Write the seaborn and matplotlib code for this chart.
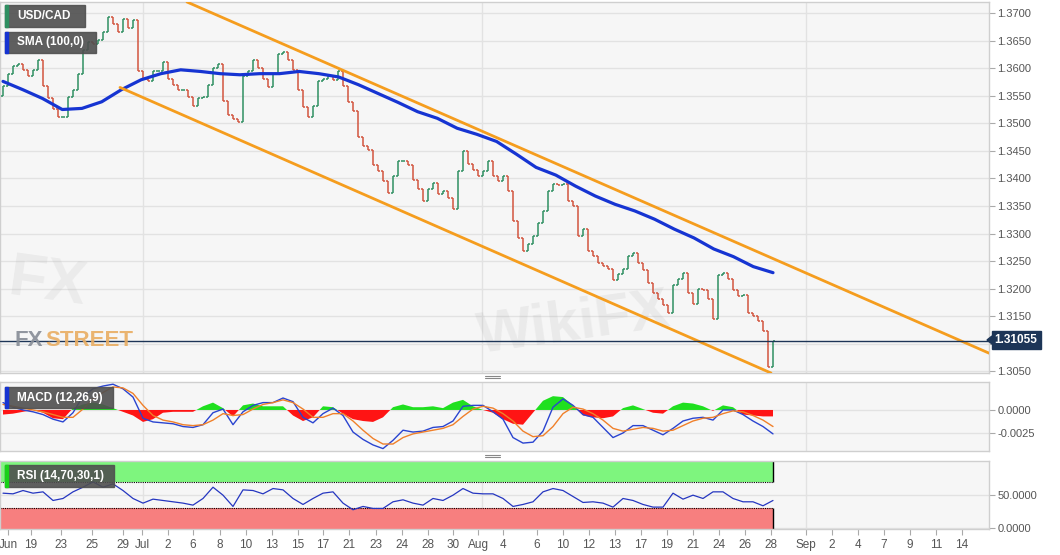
import numpy as np
import matplotlib
matplotlib.use("Agg")
import matplotlib.pyplot as plt
import seaborn as sns
from matplotlib.patches import Rectangle, Polygon
from matplotlib.lines import Line2D

# 4h-ish bars (coarsened), closes
first_open = 1.3549
closes = [
    1.3567, 1.3590, 1.3603, 1.3608, 1.3597, 1.3586, 1.3597, 1.3615, 1.3567, 1.3545,
    1.3525, 1.3512, 1.3512, 1.3548, 1.3561, 1.3590, 1.3633, 1.3648, 1.3644, 1.3651,
    1.3666, 1.3693, 1.3680, 1.3666, 1.3689, 1.3673, 1.3687, 1.3594, 1.3581, 1.3576,
    1.3594, 1.3594, 1.3612, 1.3581, 1.3570, 1.3561, 1.3561, 1.3547, 1.3531, 1.3545,
    1.3548, 1.3570, 1.3601, 1.3608, 1.3540, 1.3515, 1.3508, 1.3503, 1.3585, 1.3594,
    1.3615, 1.3601, 1.3581, 1.3565, 1.3590, 1.3626, 1.3630, 1.3615, 1.3597, 1.3561,
    1.3529, 1.3512, 1.3531, 1.3576, 1.3581, 1.3585, 1.3579, 1.3594, 1.3567, 1.3538,
    1.3522, 1.3476, 1.3458, 1.3452, 1.3425, 1.3413, 1.3395, 1.3373, 1.3404, 1.3431,
    1.3431, 1.3425, 1.3398, 1.3380, 1.3359, 1.3380, 1.3391, 1.3371, 1.3377, 1.3364,
    1.3344, 1.3413, 1.3449, 1.3427, 1.3416, 1.3404, 1.3413, 1.3431, 1.3404, 1.3395,
    1.3404, 1.3377, 1.3323, 1.3292, 1.3269, 1.3281, 1.3296, 1.3319, 1.3341, 1.3377,
    1.3389, 1.3388, 1.3389, 1.3359, 1.3350, 1.3296, 1.3308, 1.3269, 1.3260, 1.3247,
    1.3242, 1.3236, 1.3215, 1.3226, 1.3236, 1.3260, 1.3265, 1.3247, 1.3233, 1.3211,
    1.3193, 1.3182, 1.3170, 1.3156, 1.3206, 1.3218, 1.3229, 1.3193, 1.3173, 1.3200,
    1.3197, 1.3182, 1.3145, 1.3224, 1.3229, 1.3218, 1.3197, 1.3186, 1.3188, 1.3156,
    1.3151, 1.3142, 1.3124, 1.3058, 1.31055,
]
last_price = 1.31055

sma_100 = [
    1.3576, 1.3561, 1.3545, 1.3525, 1.3527, 1.3539, 1.3561, 1.3579, 1.3590, 1.3597,
    1.3594, 1.3590, 1.3588, 1.3590, 1.3590, 1.3594, 1.3590, 1.3584, 1.3570, 1.3554,
    1.3538, 1.3521, 1.3509, 1.3491, 1.3480, 1.3467, 1.3444, 1.3420, 1.3406, 1.3386,
    1.3368, 1.3353, 1.3341, 1.3326, 1.3308, 1.3292, 1.3272, 1.3258, 1.3240, 1.3229,
]

# channel drawn on the chart (bar position, price)
upper_channel_x = [36.8, 197.2]
upper_channel_y = [1.3720, 1.3083]
lower_channel_x = [23.4, 153.6]
lower_channel_y = [1.3565, 1.3047]

# MACD (12,26,9), in units of 1e-4, one reading every 2 bars
macd_line = [
    8, 3, 0, -2, -5, -10, -13, -3, 15, 23, 26, 28, 23, 14, -9, -13, -14, -15, -18, -19,
    -16, -3, 1, -16, -2, 5, 8, 8, 13, 9, -8, -14, -4, 2, -6, -24, -32, -38, -42, -33,
    -22, -24, -23, -19, -18, -12, 4, 5, 5, -2, -10, -30, -36, -35, -23, 3, 12, 5, -5, -8,
    -19, -30, -25, -17, -17, -22, -27, -20, -12, -9, -8, -11, 0, 0, -5, -12, -18, -26,
]
signal_line = [
    6, 4, 2, 0, -2, -5, -8, -8, 1, 12, 19, 25, 24, 18, 5, -6, -11, -13, -16, -17,
    -16, -11, -4, -6, -5, 1, 6, 8, 11, 8, 1, -8, -8, -4, -4, -12, -22, -31, -37, -37,
    -30, -26, -24, -22, -20, -16, -7, 1, 4, 2, -4, -12, -23, -29, -28, -18, -4, 3, 1, -4,
    -11, -20, -23, -21, -19, -20, -23, -22, -17, -12, -9, -8, -4, -1, -2, -6, -11, -18,
]
macd_hist = [
    -5, -4, -2, 0, -3, -9, -10, 2, 6, 8, 6, 2, -2, -6, -13, -10, -3, -2, -2, -2,
    4, 8, 2, -7, 5, 7, 4, 4, 4, -6, -12, -8, 4, 3, -4, -10, -12, -13, -8, 3,
    6, 3, 3, 4, 2, 8, 11, 4, 0, -3, -10, -15, -16, -3, 10, 15, 14, 5, -6, -8,
    -9, -7, 2, 5, 1, -3, -4, 4, 8, 7, 4, -1, 5, 3, -5, -6, -7, -7,
]

# RSI (14,70,30,1), one reading every 2 bars
rsi_values = [
    53, 52, 57, 53, 55, 42, 45, 55, 62, 70, 62, 67, 57, 45, 38, 44, 42, 40, 38, 35,
    45, 62, 50, 33, 58, 57, 52, 60, 58, 45, 36, 45, 53, 55, 38, 28, 33, 30, 30, 40,
    43, 38, 35, 45, 42, 50, 60, 53, 52, 52, 45, 33, 36, 40, 55, 60, 57, 48, 39, 40,
    38, 32, 45, 42, 36, 32, 32, 53, 44, 50, 45, 55, 55, 45, 40, 40, 34, 42,
]

tick_labels = ["Jun", "19", "23", "25", "29", "Jul", "2", "6", "8", "10", "13", "15",
               "17", "21", "23", "24", "28", "30", "Aug", "4", "6", "10", "12", "13",
               "17", "19", "21", "24", "26", "28", "Sep", "2", "4", "7", "9", "11", "14"]
tick_pos = [1.0, 5.6, 11.6, 17.8, 24.0, 27.8, 33.0, 38.0, 43.4, 48.6, 53.8, 59.0,
            64.0, 69.2, 74.6, 79.8, 85.0, 90.0, 95.0, 100.0, 106.8, 112.0, 117.2, 122.4,
            127.6, 132.8, 138.0, 143.2, 148.4, 153.6, 160.6, 165.8, 171.0, 176.2, 181.4,
            186.6, 191.8]
month_pos = [28.0, 95.8, 160.6]
price_ticks = [1.3050, 1.3100, 1.3150, 1.3200, 1.3250, 1.3300, 1.3350, 1.3400,
               1.3450, 1.3500, 1.3550, 1.3600, 1.3650, 1.3700]

sns.set_theme(style="white")
plt.rcParams['font.family'] = ['Liberation Sans', 'DejaVu Sans']

W, H = 1060, 555
fig = plt.figure(figsize=(W / 100, H / 100), dpi=100)
fig.patch.set_facecolor('white')


def ax_rect(x0, y0, x1, y1):
    return [x0 / W, 1 - y1 / H, (x1 - x0) / W, (y1 - y0) / H]


ax = fig.add_axes(ax_rect(0, 2, 989, 373))
ax_macd = fig.add_axes(ax_rect(0, 382, 989, 451), sharex=ax)
ax_rsi = fig.add_axes(ax_rect(0, 461, 989, 529), sharex=ax)

GRID = '#e2e2e2'
for a in (ax, ax_macd, ax_rsi):
    a.set_facecolor('#f6f6f6')
    for s in a.spines.values():
        s.set_color('#cfcfcf')
        s.set_linewidth(1)
    a.yaxis.tick_right()
    a.tick_params(axis='y', which='both', right=True, length=4, width=0.8,
                  color='#aaaaaa', labelcolor='#555555', labelsize=8, pad=2)
    a.grid(axis='y', color=GRID, lw=1)
    for m in month_pos:
        a.axvline(m, color=GRID, lw=1, zorder=0)

# faint watermarks behind the data
ax.text(0.005, 0.24, "FX", transform=ax.transAxes, color='#b0b0b0', fontsize=44,
        fontweight='bold', alpha=0.16, rotation=-8, va='center', ha='left', zorder=1)
ax.text(0.58, 0.13, "WikiFX", transform=ax.transAxes, color='#9a9a9a', fontsize=42,
        fontweight='bold', ha='center', va='center', rotation=8, alpha=0.13, zorder=1)

# --- price bars
n = len(closes)
x = np.arange(n)
opens = [first_open] + closes[:-1]
hi = np.maximum(opens, closes)
lo = np.minimum(opens, closes)
cols = ['#2f8f62' if c >= o else '#d2553f' for o, c in zip(opens, closes)]
ax.vlines(x, lo, hi, colors=cols, lw=1.1, zorder=3)
ax.hlines(opens, x - 0.4, x, colors=cols, lw=1.1, zorder=3)
ax.hlines(closes, x, x + 0.4, colors=cols, lw=1.1, zorder=3)

sma_x = np.linspace(0, n - 1, len(sma_100))
sns.lineplot(x=sma_x, y=sma_100, ax=ax, color='#1634d2', lw=2.3, zorder=4)
ax.plot(upper_channel_x, upper_channel_y, color='#f59d1e', lw=2, zorder=4)
ax.plot(lower_channel_x, lower_channel_y, color='#f59d1e', lw=2, zorder=4)
ax.axhline(last_price, color='#1d3557', lw=1, zorder=5)

ax.set_xlim(-0.6, 197.2)
ax.set_ylim(1.3047, 1.3720)
ax.set_yticks(price_ticks)
# 1.3100 sits under the current-price tag
ax.set_yticklabels(["" if abs(v - 1.31) < 1e-6 else f"{v:.4f}" for v in price_ticks])
ax.tick_params(axis='x', bottom=False, labelbottom=False)

# --- MACD
ix = np.arange(0, n, 2)
macd = np.array(macd_line) * 1e-4
sig = np.array(signal_line) * 1e-4
hist = np.array(macd_hist) * 1e-4
ax_macd.fill_between(ix, 0, hist, where=hist >= 0, color='#1fe01f', lw=0, interpolate=True, zorder=2)
ax_macd.fill_between(ix, 0, hist, where=hist <= 0, color='#ff1414', lw=0, interpolate=True, zorder=2)
sns.lineplot(x=ix, y=macd, ax=ax_macd, color='#2a44d0', lw=1, zorder=3)
sns.lineplot(x=ix, y=sig, ax=ax_macd, color='#f0802a', lw=1, zorder=3)
ax_macd.set_ylim(-0.00446, 0.00304)
ax_macd.set_yticks([-0.0025, 0.0])
ax_macd.set_yticklabels(["-0.0025", "0.0000"])
ax_macd.tick_params(axis='x', bottom=False, labelbottom=False)

# --- RSI
last_bar = n - 1
ax_rsi.fill_between([-0.6, last_bar], 70, 101.5, color='#7ef57e', lw=0, zorder=1)
ax_rsi.fill_between([-0.6, last_bar], -1, 30, color='#f77f7f', lw=0, zorder=1)
ax_rsi.hlines([70, 30], -0.6, last_bar, colors='black', lw=0.8, linestyles=(0, (1, 1)), zorder=2)
ax_rsi.vlines(last_bar, 70, 101.5, colors='black', lw=1, zorder=2)
ax_rsi.vlines(last_bar, -1, 30, colors='black', lw=1, zorder=2)
sns.lineplot(x=ix, y=rsi_values, ax=ax_rsi, color='#2536c0', lw=0.9, zorder=3)
ax_rsi.set_ylim(-1, 101.5)
ax_rsi.set_yticks([0, 50])
ax_rsi.set_yticklabels(["0.0000", "50.0000"])
ax_rsi.set_xticks(tick_pos)
ax_rsi.set_xticklabels(tick_labels)
ax_rsi.tick_params(axis='x', bottom=True, length=4, width=0.8, color='#aaaaaa',
                   labelcolor='#555555', labelsize=8.5, pad=3)
for a in (ax, ax_macd, ax_rsi):
    a.set_xlabel('')
    a.set_ylabel('')
    if a.get_legend():
        a.get_legend().remove()


# --- labels and overlays
def label_box(x0, y0, x1, y1, text, marker):
    fig.patches.append(Rectangle((x0 / W, 1 - y1 / H), (x1 - x0) / W, (y1 - y0) / H,
                                 transform=fig.transFigure, color='#4f4f4f', alpha=0.9, zorder=8))
    fig.patches.append(Rectangle((x0 / W, 1 - y1 / H), 3 / W, (y1 - y0) / H,
                                 transform=fig.transFigure, color=marker, zorder=9))
    fig.text((x0 + 12) / W, 1 - (y0 + y1) / 2 / H, text, color='white', va='center',
             ha='left', fontsize=8.5, fontweight='bold', zorder=10)


label_box(5, 5, 85, 27, "USD/CAD", '#2f8f62')
label_box(5, 32, 96, 53, "SMA (100,0)", '#1634d2')
label_box(5, 387, 113, 408, "MACD (12,26,9)", '#1634d2')
label_box(5, 465, 114, 487, "RSI (14,70,30,1)", '#19d019')

# current price tag
fig.patches.append(Rectangle((992 / W, 1 - 349 / H), 49 / W, 18 / H,
                             transform=fig.transFigure, color='#1d3557', zorder=8))
fig.patches.append(Polygon([(987 / W, 1 - 340 / H), (992 / W, 1 - 336 / H), (992 / W, 1 - 344 / H)],
                           closed=True, transform=fig.transFigure, color='#1d3557', zorder=8))
fig.text(1016 / W, 1 - 340 / H, "1.31055", color='white', ha='center', va='center',
         fontsize=8.5, fontweight='bold', zorder=10)

# FXSTREET logo: "STREET" placed right after the measured "FX"
fx_txt = fig.text(15 / W, 1 - 341 / H, "FX", color='#868c96', fontsize=16, fontweight='bold',
                  fontstretch='condensed', va='center', ha='left', zorder=7, alpha=0.9)
renderer = fig.canvas.get_renderer()
fx_right = fx_txt.get_window_extent(renderer).x1
fig.text((fx_right + 1.5) / W, 1 - 341 / H, "STREET", color='#e9ad62', fontsize=16,
         fontweight='bold', fontstretch='condensed', va='center', ha='left', zorder=7, alpha=0.9)

# pane resize handles
for yy in (376, 378, 455, 457):
    fig.add_artist(Line2D([485 / W, 500 / W], [1 - yy / H, 1 - yy / H], color='#888888', lw=0.8))

fig.savefig("out.png", dpi=100, facecolor='white')
